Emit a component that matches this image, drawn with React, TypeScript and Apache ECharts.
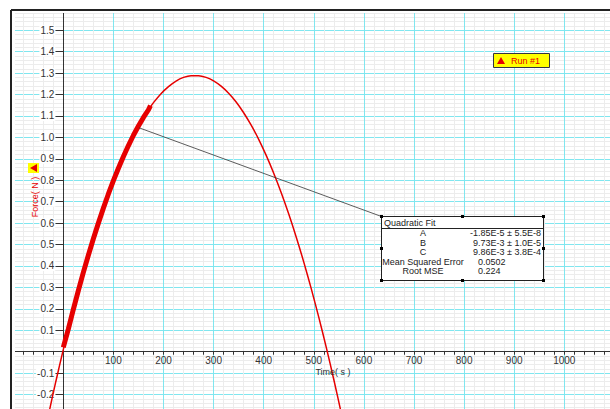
import React, { useEffect, useRef } from "react";
import * as echarts from "echarts";

// Quadratic fit curve
const fitTime = [-30, -15, 0, 15, 30, 45, 60, 75, 90, 105, 120, 135, 150, 165, 180, 195, 210, 225, 240, 255, 270, 285, 300, 315, 330, 345, 360, 375, 390, 405, 420, 435, 450, 465, 480, 495, 510, 525, 540, 555, 570];
const fitForce = [-0.299, -0.14, 0.01, 0.152, 0.285, 0.41, 0.527, 0.636, 0.736, 0.828, 0.911, 0.986, 1.053, 1.112, 1.162, 1.204, 1.237, 1.263, 1.28, 1.288, 1.288, 1.28, 1.264, 1.239, 1.206, 1.165, 1.115, 1.057, 0.991, 0.916, 0.833, 0.742, 0.642, 0.534, 0.418, 0.293, 0.16, 0.019, -0.131, -0.289, -0.455];

// Run #1 measured data
const runTime = [0, 10, 20, 30, 40, 50, 60, 70, 80, 90, 100, 110, 120, 130, 140, 150, 160, 170, 174];
const runForce = [0.02, 0.105, 0.197, 0.285, 0.37, 0.45, 0.527, 0.6, 0.67, 0.736, 0.798, 0.856, 0.911, 0.962, 1.01, 1.053, 1.093, 1.129, 1.148];

// annotation anchor (data coords)
const fitAnchor = [151, 1.045];

const fitTitle = "Quadratic Fit";
const fitRows = [
  ["A", "-1.85E-5 ± 5.5E-8"],
  ["B", "9.73E-3 ± 1.0E-5"],
  ["C", "9.86E-3 ± 3.8E-4"],
];
const statRows = [
  ["Mean Squared Error", "0.0502"],
  ["Root MSE", "0.224"],
];
const legendLabel = "Run #1";
const xTitle = "Time( s )";
const yTitle = "Force( N )";

const RED = "#e60000";
const CYAN = "#80e6ef";
const MINOR = "#ececec";
const FONT = "'Liberation Sans', Arial, sans-serif";

// layout (pixels)
const GRID = { left: 13.2, top: 8.8, width: 601.2, height: 407.2 };
const X_MIN = -100, X_MAX = 1100, Y_MIN = -0.3, Y_MAX = 1.6;

export default function App() {
  const ref = useRef<HTMLDivElement>(null);
  useEffect(() => {
    if (!ref.current) return;
    const chart = echarts.init(ref.current, null, { renderer: "svg" });

    // axis offsets so that the axes cross at zero (negative offset = inward)
    const yOffset = -(GRID.width * (0 - X_MIN)) / (X_MAX - X_MIN);
    const xOffset = -(GRID.height * (0 - Y_MIN)) / (Y_MAX - Y_MIN);

    const baseGraphic = (anchorPx: number[] | null) => {
      const g: any[] = [];
      g.push({ type: "rect", z: 100, shape: { x: 0, y: 0, width: 620, height: 13 }, style: { fill: "#fff" } });
      g.push({ type: "rect", z: 100, shape: { x: 0, y: 0, width: 15, height: 420 }, style: { fill: "#fff" } });
      g.push({ type: "line", z: 101, shape: { x1: 11, y1: 10, x2: 620, y2: 10 }, style: { stroke: "#222", lineWidth: 2 } });
      g.push({ type: "line", z: 101, shape: { x1: 11, y1: 10, x2: 11, y2: 420 }, style: { stroke: "#222", lineWidth: 2 } });
      g.push({ type: "rect", z: 101, shape: { x: 28, y: 163, width: 11, height: 10 }, style: { fill: "#ffff00" } });
      g.push({ type: "polygon", z: 102, shape: { points: [[30, 168], [37, 164], [37, 172]] }, style: { fill: RED } });
      g.push({
        type: "text", z: 101, x: 35, y: 197, rotation: Math.PI / 2,
        style: { text: yTitle, fill: RED, font: `9px ${FONT}`, align: "center", verticalAlign: "middle" },
      });
      g.push({
        type: "text", z: 101, x: 333, y: 372,
        style: { text: xTitle, fill: "#333", font: `9px ${FONT}`, align: "center", verticalAlign: "middle" },
      });
      g.push({ type: "rect", z: 101, shape: { x: 493.5, y: 53.5, width: 56, height: 14 }, style: { fill: "#ffff00", stroke: "#334", lineWidth: 1 } });
      g.push({ type: "polygon", z: 102, shape: { points: [[497, 64], [501, 57], [505, 64]] }, style: { fill: RED } });
      g.push({
        type: "text", z: 102, x: 511, y: 60.5,
        style: { text: legendLabel, fill: RED, font: `9px ${FONT}`, align: "left", verticalAlign: "middle" },
      });
      if (anchorPx) {
        g.push({ type: "line", z: 101, shape: { x1: anchorPx[0], y1: anchorPx[1], x2: 381.5, y2: 216.5 }, style: { stroke: "#333", lineWidth: 0.8 } });
      }
      g.push({ type: "rect", z: 102, shape: { x: 381.5, y: 216.5, width: 162, height: 64 }, style: { fill: "#fff", stroke: "#222", lineWidth: 1 } });
      g.push({ type: "line", z: 103, shape: { x1: 381.5, y1: 228.5, x2: 543.5, y2: 228.5 }, style: { stroke: "#222", lineWidth: 1 } });
      g.push({
        type: "text", z: 103, x: 384, y: 223,
        style: { text: fitTitle, fill: "#222", font: `9px ${FONT}`, align: "left", verticalAlign: "middle" },
      });
      const rowY = [233.3, 242.7, 251.7];
      fitRows.forEach((r, i) => {
        g.push({ type: "text", z: 103, x: 423, y: rowY[i], style: { text: r[0], fill: "#222", font: `9px ${FONT}`, align: "center", verticalAlign: "middle" } });
        g.push({ type: "text", z: 103, x: 541, y: rowY[i], style: { text: r[1], fill: "#222", font: `9px ${FONT}`, align: "right", verticalAlign: "middle" } });
      });
      const statY = [261.7, 271];
      statRows.forEach((r, i) => {
        g.push({ type: "text", z: 103, x: 423, y: statY[i], style: { text: r[0], fill: "#222", font: `9px ${FONT}`, align: "center", verticalAlign: "middle" } });
        g.push({ type: "text", z: 103, x: 478, y: statY[i], style: { text: r[1], fill: "#222", font: `9px ${FONT}`, align: "left", verticalAlign: "middle" } });
      });
      const hx = [381.5, 462.5, 543.5];
      const hy = [216.5, 248.5, 280.5];
      hx.forEach((x, i) =>
        hy.forEach((y, j) => {
          if (i === 1 && j === 1) return;
          g.push({ type: "rect", z: 104, shape: { x: x - 1.5, y: y - 1.5, width: 3, height: 3 }, style: { fill: "#000" } });
        })
      );
      return g;
    };

    const option: any = {
      animation: false,
      backgroundColor: "#fff",
      grid: { ...GRID, containLabel: false, outerBoundsMode: "none" },
      xAxis: {
        type: "value", min: X_MIN, max: X_MAX, interval: 100,
        position: "bottom", offset: xOffset,
        axisLine: { onZero: false, lineStyle: { color: "#333", width: 1 } },
        axisTick: { show: true, length: 3, lineStyle: { color: "#333" } },
        minorTick: { show: true, splitNumber: 5, length: 3, lineStyle: { color: "#333" } },
        splitLine: { show: true, lineStyle: { color: CYAN, width: 1 } },
        minorSplitLine: { show: true, lineStyle: { color: MINOR, width: 1 } },
        axisLabel: {
          fontSize: 10, color: "#333", margin: 4, fontFamily: FONT,
          formatter: (v: number) => (v <= 0 || v > 1050 ? "" : String(Math.round(v))),
        },
      },
      yAxis: {
        type: "value", min: Y_MIN, max: Y_MAX, interval: 0.1,
        position: "left", offset: yOffset,
        axisLine: { onZero: false, lineStyle: { color: "#333", width: 1 } },
        axisTick: { show: true, length: 8, lineStyle: { color: "#333" } },
        minorTick: { show: false },
        splitLine: { show: true, lineStyle: { color: CYAN, width: 1 } },
        minorSplitLine: { show: true, lineStyle: { color: MINOR, width: 1 } },
        axisLabel: {
          fontSize: 10, color: "#333", margin: 8, fontFamily: FONT,
          backgroundColor: "#fff", padding: [0, 1],
          formatter: (v: number) => (Math.abs(v) < 1e-9 || v > 1.55 || v < -0.25 ? "" : v.toFixed(1)),
        },
      },
      series: [
        {
          type: "line", name: "fit", smooth: 0.3, showSymbol: false, clip: true,
          data: fitTime.map((t, i) => [t, fitForce[i]]),
          lineStyle: { color: RED, width: 1.5 },
          z: 3,
        },
        {
          type: "line", name: legendLabel, smooth: false, showSymbol: false, clip: true,
          data: runTime.map((t, i) => [t, runForce[i]]),
          lineStyle: { color: RED, width: 5 },
          z: 4,
        },
      ],
      graphic: { elements: baseGraphic(null) },
    };
    chart.setOption(option);
    const px = chart.convertToPixel({ gridIndex: 0 }, fitAnchor) as number[];
    chart.setOption({ graphic: { elements: baseGraphic(px) } }, { replaceMerge: ["graphic"] });
    return () => chart.dispose();
  }, []);
  return (
    <div
      ref={ref}
      style={{ position: "fixed", left: 0, top: 0, width: 620, height: 420 }}
    />
  );
}
